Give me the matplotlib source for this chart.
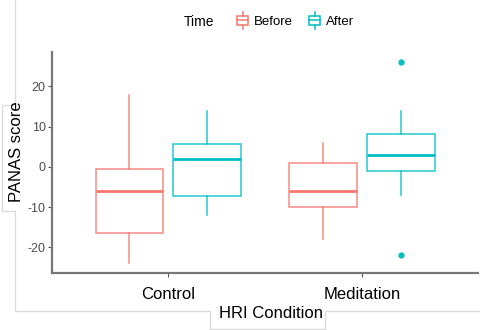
import matplotlib
matplotlib.use("Agg")
import matplotlib.pyplot as plt
from matplotlib.lines import Line2D
from matplotlib.patches import Patch, Rectangle
from matplotlib.legend_handler import HandlerBase

plt.rcParams["font.family"] = ["Liberation Sans", "DejaVu Sans"]

# ---------- data ----------
conditions = ["Control", "Meditation"]
times = ["Before", "After"]
time_colors = {"Before": "#F8766D", "After": "#00BFC4"}

# per time: one value per condition
whis_lo = {"Before": [-24, -18], "After": [-12, -7]}
q1 = {"Before": [-16.5, -10], "After": [-7.2, -1]}
median = {"Before": [-6, -6], "After": [2, 3]}
q3 = {"Before": [-0.5, 1], "After": [5.8, 8.2]}
whis_hi = {"Before": [18, 6], "After": [14, 14]}
outliers = {"Before": [[], []], "After": [[], [26, -22]]}

y_ticks = [-20, -10, 0, 10, 20]


class BoxHandler(HandlerBase):
    # little boxplot glyph for the legend keys
    def create_artists(self, legend, orig_handle, xdescent, ydescent,
                       width, height, fontsize, trans):
        c = orig_handle.get_edgecolor()
        x0, y0 = -xdescent, -ydescent
        box = Rectangle((x0, y0), width, height, facecolor="white",
                        edgecolor=c, lw=1.1, transform=trans)
        mid = Line2D([x0, x0 + width], [y0 + height / 2] * 2, color=c, lw=1.1, transform=trans)
        top = Line2D([x0 + width / 2] * 2, [y0 + height, y0 + height + 3], color=c, lw=1.1, transform=trans)
        bot = Line2D([x0 + width / 2] * 2, [y0, y0 - 3], color=c, lw=1.1, transform=trans)
        return [box, mid, top, bot]


fig = plt.figure(figsize=(4.8, 3.3), dpi=100)
ax = fig.add_axes([0.1083, 0.1736, 0.8877, 0.6679])

offsets = {"Before": -0.2, "After": 0.2}
for t in times:
    stats = []
    for i in range(len(conditions)):
        stats.append(dict(med=median[t][i], q1=q1[t][i], q3=q3[t][i],
                          whislo=whis_lo[t][i], whishi=whis_hi[t][i],
                          fliers=outliers[t][i]))
    c = time_colors[t]
    ax.bxp(stats, positions=[i + 1 + offsets[t] for i in range(len(conditions))],
           widths=0.35, showcaps=False, patch_artist=True,
           boxprops=dict(facecolor="white", edgecolor=c, lw=1.1, alpha=0.85),
           whiskerprops=dict(color=c, lw=1.1, alpha=0.85),
           medianprops=dict(color=c, lw=2.0),
           flierprops=dict(marker="o", markersize=3.5, markerfacecolor=c,
                           markeredgecolor=c))

ax.set_xlim(0.4, 2.6)
ax.set_ylim(-26.3, 28.5)
ax.set_xticks([1, 2])
ax.set_xticklabels(conditions, fontsize=12, color="black")
ax.set_yticks(y_ticks)
ax.set_yticklabels([str(v) for v in y_ticks], fontsize=9, color="#4d4d4d",
                   family=["Liberation Sans Narrow", "Liberation Sans", "DejaVu Sans"])
ax.tick_params(axis="y", length=3, width=0.8, color="#555555", pad=1.5)
ax.tick_params(axis="x", length=3, width=0.8, color="#555555", pad=7)
for s in ["top", "right"]:
    ax.spines[s].set_visible(False)
for s in ["left", "bottom"]:
    ax.spines[s].set_color("#777777")
    ax.spines[s].set_linewidth(1.6)

# axis titles
fig.text(17 / 480, 1 - 152 / 330, "PANAS score", rotation=90, fontsize=12,
         ha="center", va="center")
fig.text(271 / 480, 1 - 314 / 330, "HRI Condition", fontsize=12,
         ha="center", va="center")

# light outline around the plot with tabs for the axis titles
px = [15, 15, 2, 2, 15, 15, 210, 210, 325, 325, 480]
py = [0, 105, 105, 211, 211, 311, 311, 329, 329, 311, 311]
fig.add_artist(Line2D([x / 480 for x in px], [1 - y / 330 for y in py],
                      color="#dcdcdc", lw=1.0, transform=fig.transFigure))

# legend on top
fig.text(184 / 480, 1 - 22 / 330, "Time", fontsize=10, ha="left", va="center")
handles = [Patch(facecolor="white", edgecolor=time_colors[t]) for t in times]
fig.legend(handles, times, handler_map={Patch: BoxHandler()}, ncol=2,
           loc="center left", bbox_to_anchor=(230 / 480, 1 - 22 / 330),
           frameon=False, fontsize=9.5, handlelength=0.9, handleheight=0.6,
           handletextpad=0.4, columnspacing=1.2, borderpad=0)

fig.savefig("out.png", dpi=100)
